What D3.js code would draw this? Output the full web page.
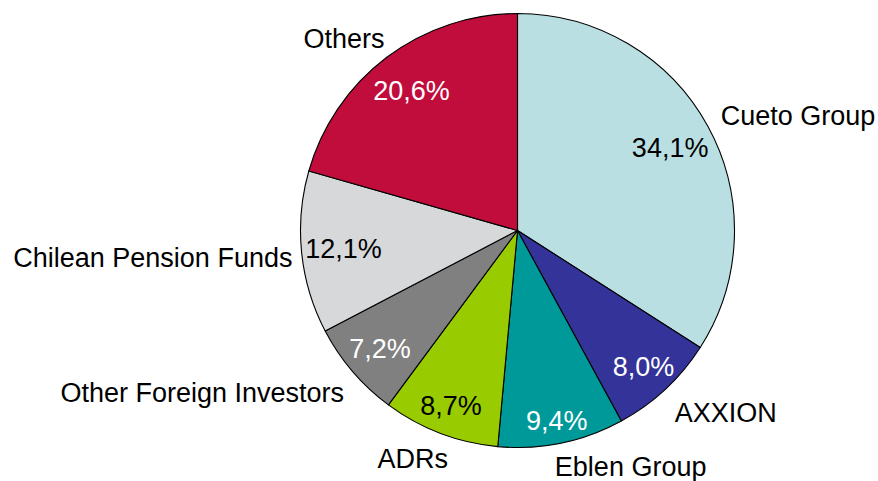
<!DOCTYPE html>
<html>
<head>
<meta charset="utf-8">
<script src="https://cdn.jsdelivr.net/npm/d3@7"></script>
<style>
  html, body { margin: 0; padding: 0; background: #ffffff; }
  svg { display: block; }
  text { font-family: "Liberation Sans", Arial, sans-serif; font-size: 27px; }
</style>
</head>
<body>
<svg id="chart" width="878" height="481"></svg>
<script>
// ---- data ----
const categories = ["Cueto Group", "AXXION", "Eblen Group", "ADRs", "Other Foreign Investors", "Chilean Pension Funds", "Others"];
const shares = [34.1, 8.0, 9.4, 8.7, 7.2, 12.1, 20.6];
const valueLabels = ["34,1%", "8,0%", "9,4%", "8,7%", "7,2%", "12,1%", "20,6%"];

// ---- styling / layout ----
const sliceColors = ["#B9DFE2", "#333399", "#009999", "#99CC00", "#808080", "#D7D8DA", "#C00D3C"];
const valueTextColors = ["#000000", "#ffffff", "#ffffff", "#000000", "#ffffff", "#000000", "#ffffff"];
const valueLabelRadius = [174, 185, 194, 187, 181, 175, 176];
const nameNudgeX = [10, 16, 51, -10, -32, 4, -10];
const nameNudgeY = [1, 4.5, -2, 1, 4, 2, 2];

const width = 878, height = 481;
const cx = 517.5, cy = 230.5, r = 217;
const capHalf = 9.7;

const svg = d3.select("#chart");
const g = svg.append("g").attr("transform", `translate(${cx},${cy})`);

const data = categories.map((c, i) => ({ name: c, value: shares[i], label: valueLabels[i], i }));
const pie = d3.pie().value(d => d.value).sort(null).startAngle(0).endAngle(2 * Math.PI);
const arcs = pie(data);
const arc = d3.arc().innerRadius(0).outerRadius(r);

g.selectAll("path.slice")
  .data(arcs)
  .join("path")
  .attr("class", "slice")
  .attr("d", arc)
  .attr("fill", d => sliceColors[d.data.i])
  .attr("stroke", "#000")
  .attr("stroke-width", 1.1)
  .attr("stroke-linejoin", "round");

// value labels
g.selectAll("text.val")
  .data(arcs)
  .join("text")
  .attr("class", "val")
  .attr("text-anchor", "middle")
  .attr("fill", d => valueTextColors[d.data.i])
  .attr("x", d => {
    const R = valueLabelRadius[d.data.i];
    return d3.arc().innerRadius(R).outerRadius(R).centroid(d)[0];
  })
  .attr("y", d => {
    const R = valueLabelRadius[d.data.i];
    return d3.arc().innerRadius(R).outerRadius(R).centroid(d)[1] + capHalf;
  })
  .text(d => d.data.label);

// category labels outside
const pad = 14, boxH = 24;
g.selectAll("text.name")
  .data(arcs)
  .join("text")
  .attr("class", "name")
  .attr("text-anchor", "middle")
  .attr("fill", "#000")
  .text(d => d.data.name)
  .each(function(d) {
    const w = this.getComputedTextLength();
    const th = (d.startAngle + d.endAngle) / 2;
    const s = Math.sin(th), c = Math.cos(th);
    const R = r + pad;
    const x = R * s + (w / 2) * s + nameNudgeX[d.data.i];
    const y = -R * c - (boxH / 2) * c + nameNudgeY[d.data.i];
    d3.select(this).attr("x", x).attr("y", y + capHalf);
  });
</script>
</body>
</html>
